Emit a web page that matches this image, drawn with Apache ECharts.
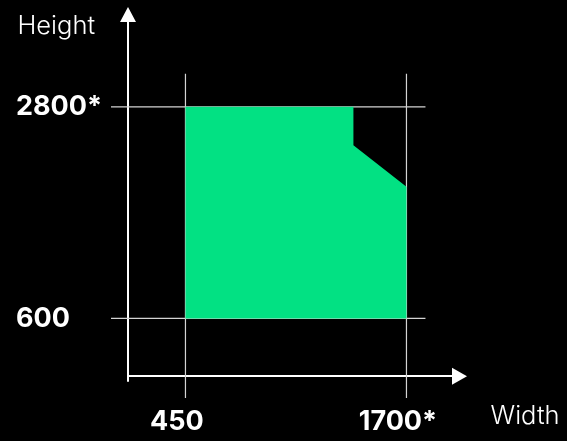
<!DOCTYPE html>
<html>
<head>
<meta charset="utf-8">
<script src="https://cdn.jsdelivr.net/npm/echarts@6/dist/echarts.min.js"></script>
<style>
  html, body { margin: 0; padding: 0; background: #000; }
  #chart { width: 567px; height: 441px; }
</style>
</head>
<body>
<div id="chart"></div>
<script>
// ---- data ----
const xTicks = [450, 1700];
const xTickLabels = ['450', '1700*'];
const yTicks = [600, 2800];
const yTickLabels = ['600', '2800*'];
// outline of the green area (width, height pairs)
const areaWidth  = [450, 1400, 1400, 1700, 1700, 450];
const areaHeight = [2800, 2800, 2400, 1970, 600, 600];
const xName = 'Width';
const yName = 'Height';

// axis ranges
const xMin = 125, xMax = 2000;
const yMin = -50, yMax = 3760;

const FONT = 'Inter';
const GREEN = '#02E183';

const chart = echarts.init(document.getElementById('chart'), null, { renderer: 'canvas' });

const gridLineData = []
  .concat(xTicks.map(v => ['v', v]))
  .concat(yTicks.map(v => ['h', v]));

const areaData = areaWidth.map((w, i) => [w, areaHeight[i]]);

const option = {
  backgroundColor: '#000',
  animation: false,
  grid: { left: 128, top: 14.5, width: 331.5, height: 366.5, containLabel: false },
  xAxis: {
    type: 'value', min: xMin, max: xMax,
    name: xName, nameLocation: 'end', nameGap: 31,
    nameTextStyle: { color: '#fff', fontFamily: FONT, fontSize: 25.5, fontWeight: 300,
      verticalAlign: 'top', padding: [27, 0, 0, 0] },
    axisLine: { show: true, lineStyle: { color: '#fff', width: 2 },
      symbol: ['none', 'triangle'], symbolSize: [17, 15] },
    axisTick: { show: false },
    splitLine: { show: false },
    axisLabel: {
      customValues: xTicks,
      formatter: v => xTickLabels[xTicks.indexOf(v)],
      color: '#fff', fontFamily: FONT, fontSize: 27, fontWeight: 'bold',
      margin: 27, padding: [0, 17, 0, 0]
    }
  },
  yAxis: {
    type: 'value', min: yMin, max: yMax,
    name: yName, nameLocation: 'end', nameGap: -12,
    nameTextStyle: { color: '#fff', fontFamily: FONT, fontSize: 25.5, fontWeight: 300,
      align: 'right', verticalAlign: 'middle', padding: [0, 33, 0, 0] },
    axisLine: { show: true, lineStyle: { color: '#fff', width: 2 },
      symbol: ['none', 'triangle'], symbolSize: [16, 15] },
    axisTick: { show: false },
    splitLine: { show: false },
    axisLabel: {
      customValues: yTicks,
      formatter: v => yTickLabels[yTicks.indexOf(v)],
      color: '#fff', fontFamily: FONT, fontSize: 27, fontWeight: 'bold',
      align: 'left', margin: 112, padding: [0, 0, 6, 0]
    }
  },
  series: [
    {
      type: 'custom',
      z: 2,
      clip: false,
      data: gridLineData,
      renderItem: function (params, api) {
        const kind = gridLineData[params.dataIndex][0];
        const v = gridLineData[params.dataIndex][1];
        let shape;
        if (kind === 'v') {
          const top = api.coord([v, yTicks[yTicks.length - 1]]);
          const bot = api.coord([v, yMin]);
          shape = { x1: top[0], y1: top[1] - 33, x2: bot[0], y2: bot[1] + 17 };
        } else {
          const l = api.coord([xMin, v]);
          const r = api.coord([xTicks[xTicks.length - 1], v]);
          shape = { x1: l[0] - 17, y1: l[1], x2: r[0] + 19, y2: r[1] };
        }
        return { type: 'line', shape: shape, style: { stroke: '#d4d4d4', lineWidth: 1.2 } };
      }
    },
    {
      type: 'custom',
      z: 3,
      data: areaData,
      renderItem: function (params, api) {
        if (params.dataIndex !== 0) return null;
        const pts = areaData.map(p => api.coord(p));
        return { type: 'polygon', shape: { points: pts }, style: { fill: GREEN } };
      }
    }
  ]
};
chart.setOption(option);
</script>
</body>
</html>
